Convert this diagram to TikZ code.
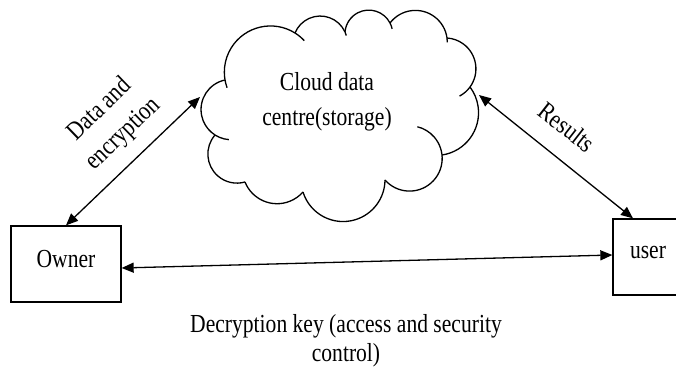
\documentclass[tikz,border=0pt]{standalone}
\usepackage{fontspec}
\setmainfont{Liberation Serif}[FakeStretch=0.83]
\usetikzlibrary{arrows.meta,calc}

\tikzset{
  cloudline/.style={line width=1.3pt, black},
  box/.style={draw, line width=1.3pt, rectangle, inner sep=0pt, minimum height=76pt, text depth=11pt},
  link/.style={line width=1.3pt, {Triangle[length=12pt,width=10pt]}-{Triangle[length=12pt,width=10pt]}},
  lbl/.style={font=\fontsize{26}{29}\selectfont, align=center, inner sep=0pt}
}

% arc lobe from #1 to #2 bulging through #3, extended #4 deg before and #5 deg after
\newcommand\cloudlobe[5]{%
  \draw[cloudline] let \p1=(#1), \p2=(#2), \p3=(#3),
    \n1={atan2(\y2-\y1,\x2-\x1)},
    \n2={veclen(\x2-\x1,\y2-\y1)/2},
    \n3={((\x3-\x1)*(\y2-\y1)-(\y3-\y1)*(\x2-\x1))/(2*\n2)},
    \n4={2*atan(\n3/\n2)},
    \n5={\n2/sin(\n4)},
    \n6={\n1-\n4-90}
  in (#1) arc[start angle=\n6, delta angle=-#4, radius=\n5]
     (#1) arc[start angle=\n6, delta angle=2*\n4+#5, radius=\n5];}

\begin{document}
\begin{tikzpicture}[x=1pt,y=1pt]
\useasboundingbox (0,0) rectangle (676,372);
\fill[white] (0,0) rectangle (676,372);

% cloud junctions and bulge points
\coordinate (c1) at (225,292);
\coordinate (c2) at (215,237);
\coordinate (c3) at (245,190);
\coordinate (c4) at (303,180);
\coordinate (c5) at (385,192);
\coordinate (c6) at (442,217);
\coordinate (c7) at (470,285);
\coordinate (c8) at (447,334);
\coordinate (c9) at (390,349);
\coordinate (c10) at (345,340);
\coordinate (c11) at (295,339);
\coordinate (b1) at (201,265);
\coordinate (b2) at (212,203);
\coordinate (b3) at (270,169);
\coordinate (b4) at (343,150);
\coordinate (b5) at (412,179);
\coordinate (b6) at (479,252);
\coordinate (b7) at (475,312);
\coordinate (b8) at (418,362);
\coordinate (b9) at (367,362);
\coordinate (b10) at (322,356);
\coordinate (b11) at (240,335);

\cloudlobe{c1}{c2}{b1}{0}{28}
\cloudlobe{c2}{c3}{b2}{0}{0}
\cloudlobe{c3}{c4}{b3}{0}{0}
\cloudlobe{c4}{c5}{b4}{0}{0}
\cloudlobe{c5}{c6}{b5}{0}{70}
\cloudlobe{c6}{c7}{b6}{0}{0}
\cloudlobe{c7}{c8}{b7}{26}{0}
\cloudlobe{c8}{c9}{b8}{8}{0}
\cloudlobe{c9}{c10}{b9}{15}{0}
\cloudlobe{c10}{c11}{b10}{8}{0}
\cloudlobe{c11}{c1}{b11}{15}{10}

\node[lbl, font=\fontsize{26}{35}\selectfont] (cloud) at (327,270) {Cloud data\\centre(storage)};
\coordinate (cloudW) at (200,275);
\coordinate (cloudE) at (479,277);

% boxes
\node[box, lbl, minimum width=110pt, minimum height=76pt, text depth=11pt] (owner) at (66,108) {Owner};
\node[box, lbl, minimum width=70pt, minimum height=76pt, text depth=9pt] (user) at (648,115) {user};

% connectors
\draw[link] (owner.north) -- (cloudW);
\draw[link] (cloudE) -- ([xshift=-15pt]user.north);
\draw[link] ([yshift=-4pt]owner.east) -- ([yshift=2pt]user.west);

% labels
\node[lbl, font=\fontsize{26}{34}\selectfont, rotate=44] (datalbl) at (112,250) {Data and\\encryption};
\node[lbl, rotate=-38] (reslbl) at (567,245) {Results};
\node[lbl] (keylbl) at (346,31) {Decryption key (access and security\\control)};
\end{tikzpicture}
\end{document}
